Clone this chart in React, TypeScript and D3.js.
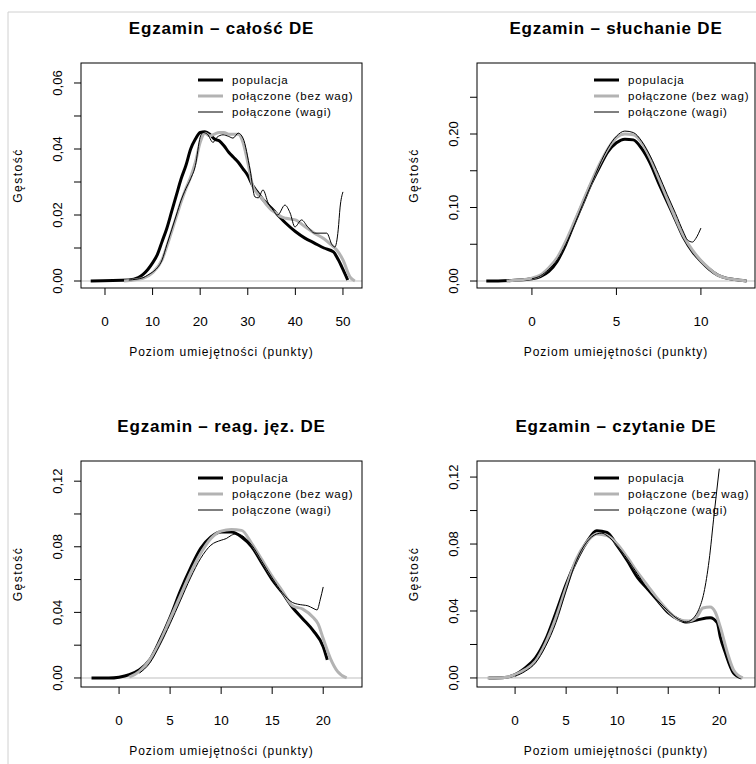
import React from "react";
import * as d3 from "d3";

const FONT = "'Liberation Sans', Arial, sans-serif";

const seriesNames = ["populacja", "połączone (bez wag)", "połączone (wagi)"];
const titles = [
  "Egzamin – całość DE",
  "Egzamin – słuchanie DE",
  "Egzamin – reag. jęz. DE",
  "Egzamin – czytanie DE",
];
const xTitle = "Poziom umiejętności (punkty)";
const yTitle = "Gęstość";

// [punkty, gęstość]
const calPop: [number, number][] = [
  [-3, 0], [5, 0.0003], [7, 0.001], [8, 0.002], [9, 0.0035], [10, 0.0055], [11, 0.008],
  [12, 0.012], [13, 0.016], [14, 0.021], [15, 0.026], [16, 0.031], [17, 0.035], [18, 0.04],
  [19, 0.043], [20, 0.045], [21, 0.0452], [22, 0.0445], [23, 0.043], [24, 0.0425], [25, 0.041],
  [26, 0.039], [27, 0.0375], [28, 0.036], [29, 0.034], [30, 0.032], [31, 0.029], [32, 0.027],
  [33, 0.025], [34, 0.0235], [35, 0.022], [36, 0.0205], [38, 0.0175], [40, 0.015], [42, 0.013],
  [44, 0.0115], [46, 0.01], [48, 0.0088], [49, 0.0065], [50, 0.0035], [51, 0.0003],
];
const calBez: [number, number][] = [
  [4, 0], [8, 0.0008], [10, 0.0025], [12, 0.0065], [13, 0.0105], [14, 0.015], [15, 0.0195],
  [16, 0.024], [17, 0.028], [18, 0.0315], [19, 0.036], [20, 0.042], [21, 0.0448], [22, 0.044],
  [23, 0.0445], [24, 0.045], [25, 0.045], [26, 0.0445], [27, 0.0445], [28, 0.0445], [29, 0.042],
  [30, 0.036], [31, 0.029], [32, 0.0265], [33, 0.025], [34, 0.023], [35, 0.0215], [36, 0.0205],
  [37, 0.0195], [38, 0.019], [40, 0.0185], [42, 0.0165], [44, 0.0145], [46, 0.0128],
  [47.5, 0.011], [48.7, 0.0094], [50, 0.0064], [51.5, 0.0012], [52.5, 0],
];
const calWagi: [number, number][] = [
  [5, 0.0003], [8, 0.001], [9, 0.0018], [10, 0.0027], [11, 0.004], [12, 0.0064], [13, 0.011],
  [14, 0.0155], [15, 0.02], [16, 0.0245], [17, 0.028], [18, 0.031], [19, 0.035], [20, 0.0436],
  [20.6, 0.045], [21.5, 0.0445], [22.7, 0.042], [23.5, 0.0435], [24.8, 0.0443], [26, 0.0438],
  [26.9, 0.0433], [28, 0.0448], [29, 0.0433], [30.5, 0.0336], [31.5, 0.0255], [32.2, 0.0252],
  [33.2, 0.0276], [34.3, 0.0236], [35.3, 0.0215], [36.3, 0.02], [37.8, 0.023], [38.9, 0.0206],
  [39.9, 0.0164], [41.3, 0.0185], [42.6, 0.0164], [44.1, 0.0145], [46.6, 0.0145], [47.7, 0.011],
  [48.3, 0.0103], [49, 0.0155], [49.4, 0.0224], [50, 0.027],
];

const sluPop: [number, number][] = [
  [-2.7, 0], [-2, 0], [-1, 0.001], [0, 0.003], [0.5, 0.006], [1, 0.013], [1.5, 0.027],
  [2, 0.05], [2.5, 0.078], [3, 0.105], [3.5, 0.132], [4, 0.155], [4.5, 0.176], [5, 0.188],
  [5.5, 0.193], [6, 0.192], [6.5, 0.18], [7, 0.16], [7.5, 0.133], [8, 0.108], [8.5, 0.083],
  [9, 0.058], [9.5, 0.04], [10, 0.027], [10.5, 0.016], [11, 0.008], [11.5, 0.004], [12, 0.002],
  [12.7, 0],
];
const sluBez: [number, number][] = [
  [-1.5, 0], [-1, 0.001], [0, 0.004], [0.5, 0.008], [1, 0.018], [1.5, 0.032], [2, 0.054],
  [2.5, 0.08], [3, 0.107], [3.5, 0.134], [4, 0.159], [4.5, 0.18], [5, 0.195], [5.5, 0.2],
  [6, 0.199], [6.5, 0.188], [7, 0.167], [7.5, 0.14], [8, 0.112], [8.5, 0.085], [9, 0.06],
  [9.5, 0.042], [10, 0.028], [10.5, 0.017], [11, 0.008], [11.5, 0.004], [12, 0.002], [12.7, 0],
];
const sluWagi: [number, number][] = [
  [0, 0.003], [0.5, 0.007], [1, 0.016], [1.5, 0.029], [2, 0.05], [2.5, 0.076], [3, 0.104],
  [3.5, 0.131], [4, 0.158], [4.5, 0.181], [5, 0.197], [5.5, 0.204], [6, 0.202], [6.5, 0.19],
  [7, 0.17], [7.5, 0.145], [8, 0.118], [8.5, 0.092], [9, 0.065], [9.2, 0.056], [9.5, 0.053],
  [9.7, 0.058], [10, 0.072],
];

const reaPop: [number, number][] = [
  [-2.7, 0], [-1, 0], [0, 0.0005], [1, 0.002], [2, 0.005], [3, 0.011], [4, 0.023], [5, 0.037],
  [6, 0.053], [7, 0.067], [8, 0.079], [9, 0.086], [10, 0.089], [11, 0.089], [12, 0.086],
  [13, 0.08], [14, 0.07], [15, 0.06], [16, 0.052], [17, 0.043], [18, 0.036], [19, 0.029],
  [20, 0.019], [20.4, 0.011],
];
const reaBez: [number, number][] = [
  [1, 0.0005], [2, 0.004], [3, 0.011], [4, 0.022], [5, 0.036], [6, 0.05], [7, 0.064],
  [8, 0.076], [9, 0.085], [10, 0.0895], [11, 0.0905], [12, 0.09], [13, 0.082], [14, 0.072],
  [15, 0.062], [16, 0.053], [17, 0.044], [18, 0.042], [19, 0.037], [19.5, 0.033], [20, 0.024],
  [20.7, 0.012], [21.4, 0.004], [22.3, 0],
];
const reaWagi: [number, number][] = [
  [2, 0.003], [3, 0.009], [4, 0.02], [5, 0.033], [6, 0.047], [7, 0.061], [8, 0.073],
  [9, 0.081], [10, 0.084], [10.5, 0.085], [11, 0.087], [11.5, 0.088], [12, 0.087], [13, 0.081],
  [14, 0.071], [15, 0.061], [16, 0.052], [17, 0.046], [17.5, 0.045], [18, 0.0445],
  [18.5, 0.044], [19, 0.0425], [19.4, 0.0415], [19.7, 0.0476], [20, 0.0555],
];

const czyPop: [number, number][] = [
  [-2.6, 0], [-1, 0.0003], [0, 0.002], [1, 0.006], [2, 0.012], [3, 0.023], [4, 0.039],
  [5, 0.056], [6, 0.07], [7, 0.081], [8, 0.088], [9, 0.087], [10, 0.079], [11, 0.07],
  [12, 0.06], [13, 0.053], [14, 0.046], [15, 0.039], [16, 0.035], [16.8, 0.0334],
  [17.8, 0.0346], [19.1, 0.036], [19.8, 0.033], [20.1, 0.0245], [20.6, 0.015], [21.4, 0.003],
  [22.2, 0],
];
const czyBez: [number, number][] = [
  [-2.7, 0], [-1, 0.0003], [0, 0.002], [1, 0.005], [2, 0.01], [3, 0.021], [4, 0.036],
  [5, 0.054], [6, 0.071], [7, 0.081], [8, 0.086], [9, 0.085], [10, 0.08], [11, 0.072],
  [12, 0.063], [13, 0.055], [14, 0.047], [15, 0.04], [16, 0.035], [17, 0.034], [17.8, 0.0364],
  [18.4, 0.0418], [19.1, 0.0424], [19.6, 0.0394], [20.1, 0.0305], [20.8, 0.015],
  [21.4, 0.0048], [22.3, 0],
];
const czyWagi: [number, number][] = [
  [0, 0.001], [1, 0.004], [2, 0.009], [3, 0.019], [4, 0.033], [5, 0.052], [6, 0.07],
  [7, 0.081], [8, 0.086], [8.5, 0.0865], [9, 0.085], [10, 0.079], [11, 0.071], [12, 0.062],
  [13, 0.053], [14, 0.046], [15, 0.04], [16, 0.035], [16.8, 0.0335], [17.5, 0.036],
  [18, 0.041], [18.5, 0.051], [19, 0.07], [19.5, 0.098], [20, 0.125],
];

const xTicks = [
  [0, 10, 20, 30, 40, 50],
  [0, 5, 10],
  [0, 5, 10, 15, 20],
  [0, 5, 10, 15, 20],
];
const yTicks = [
  [0, 0.01, 0.02, 0.03, 0.04, 0.05, 0.06],
  [0, 0.05, 0.1, 0.15, 0.2, 0.25],
  [0, 0.02, 0.04, 0.06, 0.08, 0.1, 0.12],
  [0, 0.02, 0.04, 0.06, 0.08, 0.1, 0.12],
];
const yLabelled = [
  [0, 0.02, 0.04, 0.06],
  [0, 0.1, 0.2],
  [0, 0.04, 0.08, 0.12],
  [0, 0.04, 0.08, 0.12],
];

const panels = [
  { box: [81, 63, 362, 288], xd: [-5.04, 54.0], yd: [-0.00212, 0.06606], data: [calPop, calBez, calWagi] },
  { box: [477, 63, 755, 288], xd: [-3.25, 13.2], yd: [-0.0095, 0.2966], data: [sluPop, sluBez, sluWagi] },
  { box: [81, 461, 362, 687], xd: [-3.73, 23.8], yd: [-0.0055, 0.1323], data: [reaPop, reaBez, reaWagi] },
  { box: [477, 461, 755, 687], xd: [-3.73, 23.5], yd: [-0.0054, 0.1296], data: [czyPop, czyBez, czyWagi] },
];

const styles = [
  { stroke: "#000", width: 3 },
  { stroke: "#b3b3b3", width: 3 },
  { stroke: "#000", width: 1 },
];

const fmt = (v: number) => v.toFixed(2).replace(".", ",");

function Panel({ i }: { i: number }) {
  const p = panels[i];
  const [l, t, r, b] = p.box;
  const x = d3.scaleLinear().domain(p.xd).range([l, r]);
  const y = d3.scaleLinear().domain(p.yd).range([b, t]);
  const line = d3
    .line<[number, number]>()
    .x((d) => x(d[0]))
    .y((d) => y(d[1]))
    .curve(d3.curveMonotoneX);
  const cx = (l + r) / 2;
  const cy = (t + b) / 2;
  const clipId = `clip${i}`;
  return (
    <g>
      <clipPath id={clipId}>
        <rect x={l} y={t} width={r - l} height={b - t} />
      </clipPath>
      <text x={cx} y={t - 29} textAnchor="middle" fontSize={17} fontWeight="bold" letterSpacing={0.8}>
        {titles[i]}
      </text>
      <line x1={l} x2={r} y1={y(0)} y2={y(0)} stroke="#c0c0c0" strokeWidth={1.2} />
      <g clipPath={`url(#${clipId})`}>
        {p.data.map((s, k) => (
          <path key={k} d={line(s) || ""} fill="none" stroke={styles[k].stroke}
            strokeWidth={styles[k].width} strokeLinejoin="round" />
        ))}
      </g>
      <rect x={l} y={t} width={r - l} height={b - t} fill="none" stroke="#000" strokeWidth={1} />
      {xTicks[i].map((v) => (
        <g key={v}>
          <line x1={x(v)} x2={x(v)} y1={b} y2={b + 7} stroke="#000" />
          <text x={x(v)} y={b + 38} textAnchor="middle" fontSize={13.5}>
            {v}
          </text>
        </g>
      ))}
      {yTicks[i].map((v) => (
        <line key={v} x1={l - 7} x2={l} y1={y(v)} y2={y(v)} stroke="#000" />
      ))}
      {yLabelled[i].map((v) => (
        <text key={v} transform={`translate(${l - 19},${y(v)}) rotate(-90)`} textAnchor="middle" fontSize={13}>
          {fmt(v)}
        </text>
      ))}
      <text x={cx} y={b + 68} textAnchor="middle" fontSize={12} letterSpacing={1}>
        {xTitle}
      </text>
      <text transform={`translate(${l - 59},${cy}) rotate(-90)`} textAnchor="middle" fontSize={12} letterSpacing={1.5}>
        {yTitle}
      </text>
      {seriesNames.map((n, k) => (
        <g key={n}>
          <line x1={l + 117} x2={l + 142} y1={t + 17 + k * 16} y2={t + 17 + k * 16}
            stroke={styles[k].stroke} strokeWidth={styles[k].width} />
          <text x={l + 151} y={t + 21 + k * 16} fontSize={11.5} letterSpacing={0.8}>
            {n}
          </text>
        </g>
      ))}
    </g>
  );
}

export default function App() {
  return (
    <svg width={756} height={764} style={{ position: "absolute", left: 0, top: 0, background: "#fff" }}
      fontFamily={FONT}>
      <rect width={756} height={764} fill="#fff" />
      <line x1={8} x2={756} y1={12} y2={12} stroke="#d0d0d0" />
      <line x1={8} x2={8} y1={12} y2={764} stroke="#d0d0d0" />
      {panels.map((_, i) => (
        <Panel key={i} i={i} />
      ))}
    </svg>
  );
}
